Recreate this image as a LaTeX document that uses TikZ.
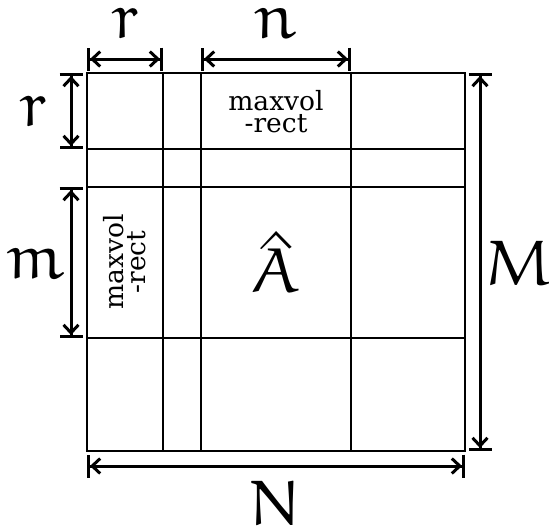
\documentclass[tikz,border=0pt]{standalone}
\usepackage[no-math]{fontspec}
\usepackage{euler}
\newfontfamily\boxfont{DejaVu Serif}
\usetikzlibrary{arrows.meta}

\tikzset{
  gridline/.style={line width=2pt},
  dimline/.style={line width=3pt,
    {Bar[width=23pt]Straight Barb[length=8pt,width=15pt]}-{Straight Barb[length=8pt,width=15pt]Bar[width=23pt]}},
  sizelabel/.style={inner sep=0pt, anchor=base, font=\fontsize{64}{70}\selectfont},
  boxlabel/.style={inner sep=0pt, align=center, font=\boxfont\fontsize{26.5}{22}\selectfont},
}

\begin{document}
\begin{tikzpicture}[x=1pt, y=-1pt]
\useasboundingbox (0,0) rectangle (549,531);

% Block grid of the matrix
\foreach \gx in {163,201,351} {
  \draw[gridline] (\gx,73) -- (\gx,451);
}
\foreach \gy in {149,187,338} {
  \draw[gridline] (87,\gy) -- (465,\gy);
}
\draw[gridline] (87,73) rectangle (465,451);

% Ends of the size arrows
\coordinate (top0) at (87,59);
\coordinate (top1) at (163,59);
\coordinate (top2) at (201,59);
\coordinate (top3) at (351,59);
\coordinate (left0) at (71,73);
\coordinate (left1) at (71,149);
\coordinate (left2) at (71,187);
\coordinate (left3) at (71,338);
\coordinate (right0) at (480,73);
\coordinate (right1) at (480,451);
\coordinate (bot0) at (87,466);
\coordinate (bot1) at (465,466);

% Size arrows
\draw[dimline] (top0) -- (top1);
\draw[dimline] (top2) -- (top3);
\draw[dimline] (left0) -- (left1);
\draw[dimline] (left2) -- (left3);
\draw[dimline] (right0) -- (right1);
\draw[dimline] (bot0) -- (bot1);

% Sizes
\node[sizelabel] (sizer1) at (125,38) {$r$};
\node[sizelabel] (sizen) at (276,38) {$n$};
\node[sizelabel] (sizer2) at (33,126) {$r$};
\node[sizelabel] (sizem) at (35,278) {$m$};
\node[sizelabel] (sizeM) at (519,285) {$M$};
\node[sizelabel] (sizeN) at (275,525) {$N$};

% Blocks
\node[sizelabel] (ahat) at (276,292) {$\hat{A}$};
\node[boxlabel] (toprect) at (276,112) {maxvol\\-rect};
\node[boxlabel, rotate=90] (leftrect) at (125,262) {maxvol\\-rect};
\end{tikzpicture}
\end{document}
